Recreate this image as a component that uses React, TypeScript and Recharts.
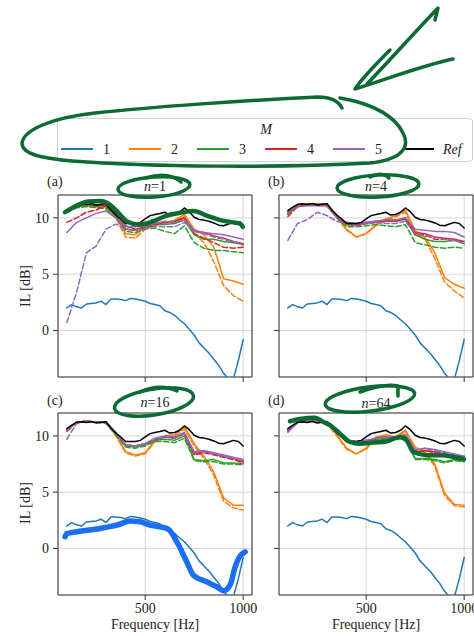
import React from "react";
import { LineChart, Line, XAxis, YAxis, CartesianGrid, ReferenceArea } from "recharts";

const FONT = "'Liberation Serif', 'DejaVu Serif', serif";
const Y_MIN = -4.13;
const Y_MAX = 12.03;
const X_MIN = 55;
const X_MAX = 1045;

// ---------- data ----------
const freqFine = [100,125,150,175,200,225,250,275,300,325,350,375,400,425,450,475,500,525,550,575,600,625,650,675,700,725,750,775,800,825,850,875,900,925,950,975,1000];
const freqCoarse = [100,150,200,250,300,350,400,450,500,550,600,650,700,750,800,850,900,950,1000];

const refIL = [10.65,10.95,11.2,11.25,11.18,11.27,11.15,11.2,11.25,10.7,10.25,9.9,9.5,9.5,9.5,9.6,9.9,10.2,10.3,10.38,10.5,10.25,10.3,10.5,10.88,10.55,10.05,9.85,9.8,9.7,9.55,9.35,9.3,9.45,9.6,9.5,9.1];
const m1IL = [2.0,2.3,2.1,2.0,2.35,2.4,2.45,2.6,2.3,2.8,2.8,2.75,2.65,2.85,2.8,2.7,2.6,2.4,2.3,2.2,1.75,1.6,1.35,0.95,0.6,0.1,-0.4,-1.1,-1.55,-2.0,-2.55,-3.1,-3.8,-4.3,-4.3,-2.7,-0.8];

// panel (a) n=1
const aM2 = [10.6,11.1,11.2,11.0,11.0,10.2,8.6,8.5,9.2,9.5,9.6,9.8,10.3,9.0,8.5,7.4,4.6,4.4,4.1];
const aM2d = [10.5,10.9,11.1,10.9,10.9,10.0,8.3,8.2,9.0,9.4,9.5,9.7,10.1,8.6,7.8,6.1,4.0,3.1,2.6];
const aM3 = [10.6,11.0,11.1,11.0,11.0,10.2,9.0,8.9,9.2,9.4,9.4,9.5,9.8,8.5,8.1,8.1,7.9,7.8,7.6];
const aM3d = [10.5,10.9,11.0,10.9,10.8,10.0,8.8,8.7,9.0,9.1,8.8,8.6,9.3,7.8,7.3,7.1,7.1,7.0,6.9];
const aM4 = [10.6,11.0,11.2,11.1,11.1,10.4,9.3,9.0,9.2,9.5,9.6,9.7,10.0,8.8,8.7,8.4,8.2,7.9,7.7];
const aM4d = [9.6,10.0,10.5,10.7,11.1,10.3,9.0,8.9,9.1,9.35,9.6,9.6,10.0,8.6,8.2,7.8,7.4,7.3,7.4];
const aM5 = [8.7,9.6,10.0,10.4,10.6,10.0,9.2,9.2,9.3,9.5,9.7,9.6,9.8,8.9,8.7,8.6,8.5,8.3,8.1];
const aM5d = [0.7,3.4,6.9,7.5,9.0,9.45,9.0,8.9,9.1,9.25,9.2,9.2,9.6,8.8,8.6,8.3,8.1,7.9,7.6];

// panel (b) n=4
const bM2 = [10.5,11.1,11.2,11.2,11.1,10.1,9.0,8.3,8.6,9.4,9.9,10.2,10.7,8.9,8.3,6.9,4.7,4.1,3.75];
const bM2d = [10.4,11.0,11.2,11.1,11.0,10.0,8.9,8.3,8.6,9.3,9.8,10.1,10.5,8.7,8.1,6.4,4.3,3.5,2.9];
const bM3 = [10.5,11.1,11.2,11.2,11.2,10.1,9.4,9.4,9.5,9.6,9.7,9.7,9.9,8.5,8.1,7.9,7.9,8.0,7.7];
const bM3d = [10.4,11.0,11.1,11.1,11.1,10.0,9.2,9.2,9.3,9.4,9.3,9.2,9.4,7.8,7.6,7.4,7.3,7.4,7.3];
const bM4 = [10.3,11.1,11.2,11.2,11.2,10.2,9.5,9.4,9.6,9.7,9.8,9.8,10.0,8.7,8.6,8.3,8.2,8.1,7.9];
const bM4d = [10.1,11.0,11.1,11.1,11.1,10.1,9.4,9.3,9.5,9.6,9.7,9.7,9.9,8.5,8.5,8.1,8.1,8.0,7.8];
const bM5 = [10.4,11.0,11.1,11.1,11.1,10.1,9.6,9.5,9.6,9.7,9.8,9.8,10.0,9.0,8.9,8.8,8.8,8.7,8.3];
const bM5d = [8.0,9.5,9.85,10.5,10.2,9.7,9.5,9.3,9.5,9.6,9.5,9.5,9.7,8.6,8.4,8.3,8.1,8.0,7.8];

// panel (c) n=16
const cM2 = [10.5,11.2,11.3,11.2,11.2,10.1,8.6,8.3,8.5,9.6,10.0,10.1,10.8,9.3,8.2,6.8,4.5,3.85,3.85];
const cM2d = [10.5,11.2,11.3,11.2,11.2,10.0,8.5,8.2,8.4,9.5,9.9,10.0,10.6,9.1,8.0,6.5,4.2,3.6,3.4];
const cM3 = [10.5,11.2,11.3,11.2,11.2,10.2,9.1,9.0,9.2,9.6,9.7,9.6,10.0,7.9,7.8,7.9,7.6,7.6,7.5];
const cM3d = [10.5,11.2,11.3,11.2,11.1,10.1,9.0,8.9,9.1,9.5,9.5,9.4,9.8,7.8,7.7,7.7,7.5,7.5,7.4];
const cM4 = [10.5,11.2,11.3,11.2,11.2,10.3,9.2,9.1,9.3,9.7,9.9,9.8,10.2,8.4,8.6,8.4,8.2,8.0,7.7];
const cM4d = [10.4,11.2,11.3,11.2,11.2,10.3,9.2,9.1,9.3,9.7,9.9,9.8,10.2,8.3,8.5,8.3,8.1,7.9,7.6];
const cM5 = [10.5,11.2,11.3,11.2,11.2,10.3,9.2,9.1,9.3,9.8,10.0,9.9,10.3,8.6,8.7,8.5,8.3,8.1,7.9];
const cM5d = [9.7,11.1,11.3,11.2,11.2,10.3,9.2,9.1,9.3,9.7,9.9,9.8,10.2,8.5,8.6,8.4,8.2,8.0,7.8];

// panel (d) n=64
const dM2 = [10.5,11.2,11.35,11.3,11.1,10.1,8.9,8.4,8.9,9.9,10.1,9.9,10.5,9.0,8.6,7.5,4.9,3.9,3.85];
const dM2d = [10.5,11.2,11.35,11.3,11.1,10.0,8.8,8.4,8.8,9.8,10.0,9.8,10.4,8.9,8.5,7.3,4.7,3.8,3.7];
const dM3 = [10.5,11.2,11.35,11.3,11.1,10.3,9.5,9.4,9.5,9.7,9.8,9.8,9.9,8.0,8.0,7.9,7.7,7.9,7.75];
const dM3d = [10.5,11.2,11.35,11.3,11.1,10.3,9.5,9.4,9.4,9.6,9.7,9.7,9.8,7.9,7.9,7.8,7.6,7.8,7.7];
const dM4 = [10.5,11.2,11.35,11.3,11.1,10.3,9.6,9.45,9.5,9.8,9.9,9.9,10.05,8.5,8.7,8.6,8.4,8.2,8.0];
const dM4d = [10.4,11.2,11.3,11.3,11.1,10.3,9.6,9.45,9.5,9.8,9.9,9.9,10.0,8.5,8.7,8.5,8.4,8.2,8.0];
const dM5 = [10.4,11.2,11.3,11.3,11.1,10.3,9.6,9.5,9.6,9.8,9.9,9.9,10.1,8.7,8.9,8.8,8.6,8.4,8.2];
const dM5d = [10.3,11.2,11.3,11.3,11.1,10.3,9.6,9.5,9.6,9.8,9.9,9.9,10.1,8.7,8.9,8.7,8.5,8.3,8.2];

// hand-drawn overlay strokes
const greenAFreq = [91,134,210,270,305,355,405,470,540,610,678,746,814,882,950,984,998];
const greenAIL = [10.5,10.95,11.45,11.5,11.35,10.6,9.7,9.4,9.7,10.2,10.45,10.6,10.2,9.8,9.6,9.5,9.2];
const greenDFreq = [111,162,239,281,315,366,417,468,534,604,672,706,740,808,876,944,999];
const greenDIL = [11.3,11.5,11.6,11.24,10.95,10.2,9.47,9.3,9.4,9.5,9.9,9.6,8.58,8.28,8.28,8.14,7.93];
const blueCFreq = [91,100,151,270,355,423,474,525,576,619,661,712,746,814,865,899,933,959,976,1010];
const blueCIL = [1.04,1.33,1.48,1.78,2.07,2.43,2.37,2.07,1.92,1.7,0.6,-1.18,-2.37,-2.96,-3.4,-3.75,-3.25,-1.63,-0.9,-0.3];

const xTicks = [500, 1000];
const yTicks = [0, 5, 10];
const legendLabels = ["1", "2", "3", "4", "5", "Ref"];
const colors = ["#1f77b4", "#ff7f0e", "#2ca02c", "#d62728", "#9467bd", "#000000"];
const panelTitles = ["1", "4", "16", "64"];
const panelTags = ["(a)", "(b)", "(c)", "(d)"];

// ---------- helpers ----------
type Pt = { f: number; v: number };
const toPts = (fs: number[], vs: number[]): Pt[] => fs.map((f, i) => ({ f, v: vs[i] }));

type S = { id: string; color: string; dash?: boolean; data: Pt[]; width?: number; smooth?: boolean };

function buildSeries(m2: number[], m2d: number[], m3: number[], m3d: number[], m4: number[], m4d: number[], m5: number[], m5d: number[]): S[] {
  return [
    { id: "m1", color: colors[0], data: toPts(freqFine, m1IL) },
    { id: "m2", color: colors[1], data: toPts(freqCoarse, m2) },
    { id: "m2d", color: colors[1], dash: true, data: toPts(freqCoarse, m2d) },
    { id: "m3", color: colors[2], data: toPts(freqCoarse, m3) },
    { id: "m3d", color: colors[2], dash: true, data: toPts(freqCoarse, m3d) },
    { id: "m4", color: colors[3], data: toPts(freqCoarse, m4) },
    { id: "m4d", color: colors[3], dash: true, data: toPts(freqCoarse, m4d) },
    { id: "m5", color: colors[4], data: toPts(freqCoarse, m5) },
    { id: "m5d", color: colors[4], dash: true, data: toPts(freqCoarse, m5d) },
    { id: "ref", color: colors[5], data: toPts(freqFine, refIL) },
  ];
}

const GREEN = "#0c6b33";
const panels = [
  { left: 0, top: 170, xLab: false, yLab: true, series: [...buildSeries(aM2, aM2d, aM3, aM3d, aM4, aM4d, aM5, aM5d), { id: "annA", color: GREEN, width: 4.5, smooth: true, data: toPts(greenAFreq, greenAIL) }] },
  { left: 221, top: 170, xLab: false, yLab: false, series: buildSeries(bM2, bM2d, bM3, bM3d, bM4, bM4d, bM5, bM5d) },
  { left: 0, top: 388, xLab: true, yLab: true, series: [...buildSeries(cM2, cM2d, cM3, cM3d, cM4, cM4d, cM5, cM5d), { id: "annC", color: "#1a6ff0", width: 5.5, smooth: true, data: toPts(blueCFreq, blueCIL) }] },
  { left: 221, top: 388, xLab: true, yLab: false, series: [...buildSeries(dM2, dM2d, dM3, dM3d, dM4, dM4d, dM5, dM5d), { id: "annD", color: GREEN, width: 4.5, smooth: true, data: toPts(greenDFreq, greenDIL) }] },
];

const tickStyle = { fill: "#222", fontSize: 14, fontFamily: FONT };

function Panel(p: any) {
  const xh = p.xLab ? 40 : 10;
  return (
    <div style={{ position: "absolute", left: p.left, top: p.top }}>
      <LineChart width={262} height={25 + 182 + xh} margin={{ top: 25, right: 10, bottom: 0, left: 18 }}>
        <CartesianGrid stroke="#d6d6d6" strokeWidth={1} />
        <XAxis
          dataKey="f"
          type="number"
          domain={[X_MIN, X_MAX]}
          ticks={xTicks}
          allowDataOverflow
          axisLine={false}
          tickLine={{ stroke: "#333" }}
          tickSize={5}
          tickMargin={3}
          height={xh}
          tick={tickStyle}
          tickFormatter={(v: number) => (p.xLab ? String(v) : "")}
        />
        <YAxis
          type="number"
          domain={[Y_MIN, Y_MAX]}
          ticks={yTicks}
          allowDataOverflow
          axisLine={false}
          tickLine={{ stroke: "#333" }}
          tickSize={5}
          tickMargin={4}
          width={40}
          tick={tickStyle}
          tickFormatter={(v: number) => (p.yLab ? String(v) : "")}
        />
        {p.series.map((s: S) => (
          <Line
            key={s.id}
            data={s.data}
            dataKey="v"
            type={s.smooth ? "monotone" : "linear"}
            stroke={s.color}
            strokeWidth={s.width || 1.5}
            strokeDasharray={s.dash ? "5.5 2.5" : undefined}
            strokeLinecap="round"
            strokeLinejoin="round"
            dot={false}
            activeDot={false}
            isAnimationActive={false}
          />
        ))}
        <ReferenceArea x1={X_MIN} x2={X_MAX} y1={Y_MIN} y2={Y_MAX} fill="none" fillOpacity={0} stroke="#333" strokeWidth={1} />
      </LineChart>
    </div>
  );
}

const swatchX = [61, 129, 197, 265, 333, 402];
const labelX = [103, 171, 239, 307, 375, 443];

function Overlay() {
  const t = { fontFamily: FONT, fontSize: 14, fill: "#222" } as any;
  const titlePos = [
    [155, 191],
    [376, 191],
    [155, 407],
    [376, 408],
  ];
  const tagPos = [
    [47, 186],
    [268, 186],
    [47, 405],
    [268, 405],
  ];
  return (
    <svg width={474} height={636} style={{ position: "absolute", left: 0, top: 0, pointerEvents: "none" }}>
      {/* legend */}
      <rect x={57.5} y={118.5} width={415} height={43} rx={3} fill="#fff" fillOpacity={0.85} stroke="#d0d0d0" />
      <text x={266} y={134} textAnchor="middle" {...t} fontStyle="italic">M</text>
      {legendLabels.map((lab, i) => (
        <g key={lab}>
          <line x1={swatchX[i]} x2={swatchX[i] + 32} y1={149} y2={149} stroke={colors[i]} strokeWidth={2} />
          <text x={labelX[i]} y={154} {...t} fontStyle={lab === "Ref" ? "italic" : "normal"}>{lab}</text>
        </g>
      ))}
      {/* panel tags & titles */}
      {panelTags.map((tag, i) => (
        <text key={tag} x={tagPos[i][0]} y={tagPos[i][1]} {...t}>{tag}</text>
      ))}
      {panelTitles.map((n, i) => (
        <text key={n} x={titlePos[i][0]} y={titlePos[i][1]} textAnchor="middle" {...t}>
          <tspan fontStyle="italic">n</tspan>={n}
        </text>
      ))}
      {/* axis labels */}
      <text transform="translate(30,286) rotate(-90)" textAnchor="middle" {...t}>IL [dB]</text>
      <text transform="translate(30,503) rotate(-90)" textAnchor="middle" {...t}>IL [dB]</text>
      <text x={155} y={629} textAnchor="middle" {...t}>Frequency [Hz]</text>
      <text x={376} y={629} textAnchor="middle" {...t}>Frequency [Hz]</text>
      {/* hand-drawn marks */}
      <g fill="none" stroke={GREEN} strokeWidth={3.5} strokeLinecap="round" strokeLinejoin="round">
        <path d="M 342,108 C 338,100 330,97 318,97 C 250,100 150,107 95,113 C 50,118 24,130 22,143 C 22,154 40,158 72,161 C 150,167 280,168 370,163 C 400,160 411,148 403,133 C 396,118 376,104 340,98" />
        <path d="M 390,50 C 375,65 362,78 355,89 C 385,80 420,66 453,59" />
        <path d="M 367,84 C 390,60 415,32 438,8 L 435,20" />
        <ellipse cx={154} cy={187} rx={36} ry={10} transform="rotate(-4 154 187)" />
        <path d="M 146,178 Q 168,171 181,182" />
        <ellipse cx={378} cy={186} rx={41} ry={11} transform="rotate(-3 378 186)" />
        <path d="M 370,177 Q 382,171 389,178" />
        <ellipse cx={154} cy={402} rx={40} ry={13} transform="rotate(-9 154 402)" />
        <path d="M 140,392 Q 160,383 177,391" />
        <ellipse cx={370} cy={399} rx={45} ry={12} transform="rotate(-7 370 399)" />
        <path d="M 360,392 Q 385,383 398,386 L 398,396" />
      </g>
    </svg>
  );
}

export default function App() {
  return (
    <div style={{ position: "absolute", left: 0, top: 0, width: 474, height: 636, overflow: "hidden", background: "#fff" }}>
      {panels.map((p, i) => (
        <Panel key={i} {...p} />
      ))}
      <Overlay />
    </div>
  );
}
